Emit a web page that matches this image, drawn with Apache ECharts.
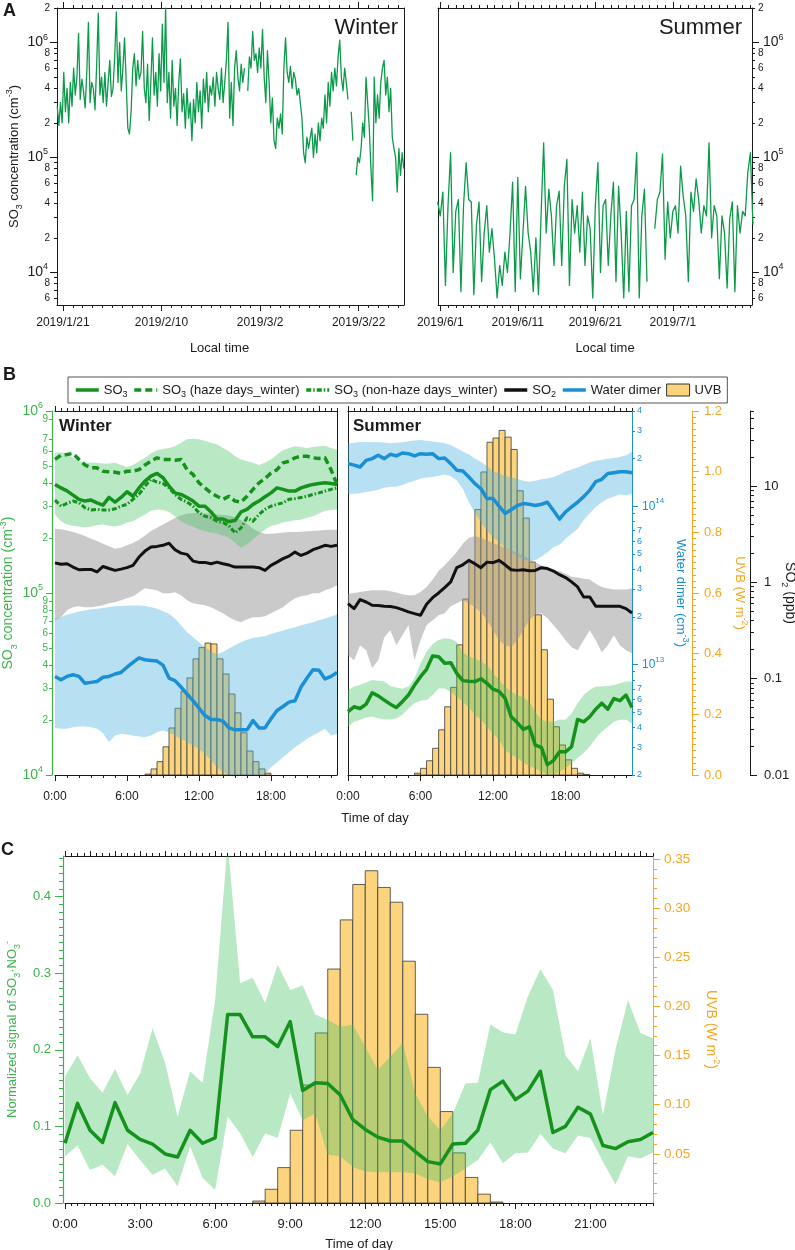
<!DOCTYPE html>
<html lang="en">
<head>
<meta charset="utf-8">
<title>SO3 observations</title>
<script src="https://cdn.jsdelivr.net/npm/echarts@6.0.0/dist/echarts.min.js"></script>
<style>
  html, body { margin: 0; padding: 0; background: #fff; }
  #chart { width: 795px; height: 1250px; }
</style>
</head>
<body>
<div id="chart"></div>
<script>
// ---------- panel A : SO3 time series, 8-hourly readings, units of 1e4 cm-3 ----------
const winterStart = Date.UTC(2019, 0, 19, 20);
const summerStart = Date.UTC(2019, 4, 31, 16);
const STEP = 8 * 3600e3;
const winterSO3_e4 = [28, 19, 30, 20,
  55, 25, 40, 20, 45, 28, 60, 35, 50, 120, 32, 48, 38, 27, 55, 150, 30, 45, 40, 26, 62, 180, 35, 50, 30, 55, 28, 45, 70, 34,
  40, 75, 185, 45, 100, 38, 60, 110, 45, 18, 16, 25, 60, 80, 42, 70, 48, 55, 125, 40, 30, 65, 21, 45, 110, 35, 55, 28, 80, 38,
  145, 45, 200, 30, 55, 22, 70, 28, 40, 19, 45, 72, 25, 36, 18, 40, 22, 30, 14, 32, 20, 45, 25, 38, 18, 48, 30, 55, 25, 42,
  35, 50, 28, 55, 40, 32, 60, 30, 45, 70, 150, 22, 45, 19, 60, 85, 50, 38, 65, 45, 60, null, 38, 75, 60, 125, 70, 80, 55, 90,
  60, 130, 50, 30, 85, 45, 20, 33, 14, 12, 22, 18, 24, 16, 60, 110, 55, 45, 62, 40, 55, 48, 35, 40, 30, 22, 11, 9, 15, 12,
  12, 18, 10, 16, 11, 20, 14, 22, 18, 35, 20, 45, 28, 55, 38, 60, 42, 75, 105, 50, 38, 60, 45, 32, null, 25, 14, null, 7, 10,
  9, 12, 20, 15, 50, 30, 18, 8, 4.2, 50, 20, 35, 22, 45, 60, 70, 35, 50, 25, 40, 15, 12, 10, 5, 12, 7, 11, 8];
const summerSO3_e4 = [4.1, 3.1, 5.0, 0.77, 3.8, 11, 1.0, 3.4, 4.3, 0.68, 3.8, 9.0, 4.3, 4.1, 0.64, 2.6, 4.1, 0.83, 2.2, 3.8,
  1.5, 2.4, 1.3, 0.6, 1.15, 0.77, 1.5, 1.0, 2.2, 6.1, 0.68, 6.7, 0.88, 2.2, 5.6, 2.2, 1.5, 0.68, 2.0, 0.64,
  3.1, 13.4, 2.2, 5.3, 3.1, 1.15, 3.8, 5.1, 1.15, 5.6, 9.6, 0.77, 4.3, 2.2, 3.8, 1.5, 5.0, 1.15, 3.1, 2.4,
  0.6, 3.8, 9.0, 1.0, 3.8, 4.3, 1.15, 3.1, 6.1, 0.83, 5.6, 2.2, 0.6, 3.4, 0.68, 3.8, 4.3, 11, 0.6, 3.1,
  5.3, 0.83, null, null, 2.4, 4.3, 5.0, 10.7, 1.3, 4.1, 2.0, 3.4, 3.8, 2.2, 8.4, 4.6, 3.1, 0.83, 5.0, 3.4,
  6.5, 4.3, 2.2, 3.8, 3.1, 13.4, 2.0, 3.8, 3.1, 0.88, 3.1, 2.2, 0.73, 2.9, 4.1, 0.68, 3.8, 2.2, 3.4, 3.1,
  7.4, 11, 2.6];
const winterDateTicks = ['2019-01-21', '2019-02-10', '2019-03-02', '2019-03-22'];
const summerDateTicks = ['2019-06-01', '2019-06-11', '2019-06-21', '2019-07-01'];

// ---------- panel B : diurnal means, half-hourly from 0:00 ----------
// winter, SO3 in 1e5 cm-3, water dimer in 1e13 cm-3, SO2 in ppb
const wSO3 = [3.95,3.78,3.64,3.45,3.27,3.20,3.24,3.13,3.04,3.35,3.16,3.35,3.60,3.40,3.78,4.12,4.39,4.54,4.30,3.87,3.55,3.48,3.35,3.20,3.00,3.00,2.79,2.55,2.55,2.47,2.50,2.79,2.88,3.07,3.20,3.38,3.55,3.78,3.71,3.63,3.63,3.78,3.87,3.95,4.00,4.03,4.00,3.95];
const wSO3Haze = [5.42,5.72,5.77,5.85,5.42,5.05,4.87,4.87,4.67,4.63,4.61,4.54,4.67,4.67,4.76,5.05,5.30,5.53,5.42,5.42,5.37,5.42,4.76,4.48,4.03,3.78,3.55,3.40,3.27,3.40,3.20,3.16,3.40,3.71,4.03,4.25,4.57,4.76,5.19,5.30,5.53,5.64,5.64,5.53,5.49,5.53,4.76,3.95];
const wSO3NonHaze = [3.24,3.00,3.11,3.20,3.13,2.94,2.86,2.88,2.86,2.86,2.90,3.00,3.07,3.27,3.48,3.87,4.21,4.07,4.00,3.78,3.48,3.27,3.16,3.00,2.76,2.64,2.59,2.48,2.44,2.34,2.14,2.28,2.59,2.48,2.70,2.88,3.00,3.07,3.13,3.27,3.30,3.35,3.40,3.48,3.55,3.63,3.71,3.78];
const wSO3Hi = [5.89,5.94,5.85,5.53,5.30,5.23,5.19,5.19,5.14,5.14,5.19,5.05,4.93,5.05,5.30,5.53,5.85,6.09,6.19,6.27,6.40,6.70,7.00,7.05,7.00,6.85,6.70,6.56,6.27,6.01,5.64,5.42,5.30,5.19,5.05,5.19,5.42,5.77,6.09,6.27,6.40,6.34,6.27,6.34,6.40,6.45,6.27,6.14];
const wSO3Lo = [2.70,2.48,2.38,2.34,2.32,2.29,2.32,2.36,2.38,2.34,2.32,2.36,2.44,2.48,2.59,2.70,2.83,2.88,2.86,2.79,2.64,2.48,2.38,2.32,2.23,2.19,2.14,2.12,2.07,2.02,1.89,1.77,1.85,1.97,2.10,2.23,2.34,2.38,2.44,2.48,2.51,2.53,2.59,2.64,2.73,2.83,2.86,2.88];
const wSO2 = [1.59,1.54,1.56,1.44,1.35,1.36,1.36,1.28,1.46,1.39,1.33,1.37,1.42,1.50,1.83,2.11,2.32,2.36,2.42,2.55,2.18,2.01,1.95,1.66,1.61,1.61,1.56,1.62,1.56,1.51,1.44,1.44,1.44,1.44,1.42,1.33,1.50,1.62,1.76,1.87,2.06,1.90,2.01,2.18,2.29,2.42,2.36,2.42];
const wSO2Hi = [3.60,3.55,3.46,3.32,3.19,3.02,2.84,2.69,2.52,2.37,2.23,2.29,2.42,2.56,2.77,3.06,3.40,3.68,3.97,4.30,4.66,4.95,5.15,5.23,5.23,5.19,5.15,5.07,4.99,4.91,4.74,4.44,4.05,3.60,3.32,3.19,3.19,3.24,3.29,3.32,3.32,3.35,3.38,3.40,3.46,3.49,3.51,3.51];
const wSO2Lo = [0.404,0.434,0.513,0.551,0.564,0.551,0.551,0.564,0.577,0.606,0.620,0.651,0.683,0.716,0.788,0.867,0.846,0.826,0.769,0.769,0.788,0.733,0.651,0.606,0.592,0.577,0.551,0.513,0.477,0.434,0.404,0.385,0.414,0.434,0.434,0.444,0.477,0.513,0.551,0.620,0.683,0.716,0.733,0.769,0.769,0.826,0.867,0.931];
const wWater = [0.84,0.80,0.84,0.86,0.84,0.76,0.77,0.78,0.83,0.84,0.87,0.89,0.96,1.03,1.10,1.07,1.06,1.05,0.99,0.82,0.79,0.72,0.65,0.59,0.53,0.475,0.449,0.449,0.438,0.397,0.386,0.386,0.386,0.442,0.397,0.397,0.453,0.512,0.542,0.578,0.59,0.72,0.82,0.925,0.92,0.81,0.84,0.89];
const wWaterHi = [1.95,1.99,2.07,2.11,2.16,2.20,2.23,2.25,2.27,2.31,2.33,2.34,2.35,2.36,2.36,2.34,2.31,2.25,2.17,2.09,1.95,1.77,1.60,1.49,1.38,1.29,1.20,1.16,1.20,1.26,1.32,1.38,1.43,1.47,1.49,1.51,1.56,1.60,1.64,1.68,1.72,1.77,1.81,1.85,1.90,1.95,2.01,2.07];
const wWaterLo = [0.397,0.392,0.392,0.401,0.405,0.405,0.401,0.392,0.367,0.322,0.356,0.364,0.361,0.356,0.350,0.347,0.356,0.373,0.382,0.373,0.356,0.339,0.322,0.307,0.292,0.272,0.247,0.224,0.208,0.2,0.2,0.2,0.2,0.2,0.2,0.203,0.224,0.240,0.259,0.279,0.300,0.318,0.339,0.356,0.373,0.392,0.356,0.364];
const wUVB = [0.003,0.020,0.044,0.093,0.155,0.220,0.275,0.320,0.383,0.420,0.435,0.432,0.383,0.333,0.267,0.205,0.139,0.079,0.044,0.020,0.006]; // 7:30 .. 17:30

// summer, SO3 in 1e4 cm-3, water dimer in 1e14 cm-3, SO2 in ppb
const sSO3 = [2.23,2.37,2.32,2.45,2.83,2.72,2.58,2.45,2.35,2.53,2.75,3.11,3.47,3.81,4.51,4.47,4.11,4.14,3.62,3.30,3.27,3.26,3.38,3.19,2.96,2.88,2.64,2.09,1.94,1.78,1.84,1.46,1.42,1.14,1.20,1.34,1.34,1.43,2.02,1.96,2.09,2.30,2.48,2.30,2.63,2.56,2.75,2.35];
const sSO3Hi = [2.93,3.06,3.12,3.22,3.33,3.30,3.26,3.08,3.03,2.98,3.06,3.40,4.11,4.76,5.25,5.52,5.64,5.59,5.40,4.76,4.47,4.38,4.20,4.02,3.62,3.33,3.06,2.87,2.75,2.67,2.53,2.23,2.01,1.96,1.96,2.02,2.01,2.18,2.48,2.75,2.93,3.06,3.06,3.08,3.12,3.19,3.26,3.26];
const sSO3Lo = [1.84,1.96,2.01,2.07,2.09,2.05,2.02,2.02,2.05,2.14,2.32,2.48,2.56,2.58,2.75,2.99,2.99,2.87,2.69,2.53,2.35,2.14,2.01,1.84,1.69,1.56,1.37,1.29,1.24,1.17,1.12,1.09,1.04,1.01,1.01,1.04,1.09,1.16,1.24,1.32,1.43,1.59,1.73,1.84,1.96,2.01,2.01,1.92];
const sSO2 = [0.601,0.533,0.661,0.625,0.578,0.573,0.564,0.560,0.546,0.521,0.493,0.473,0.455,0.592,0.693,0.775,0.881,1.01,1.42,1.52,1.69,1.56,1.42,1.62,1.60,1.69,1.52,1.35,1.33,1.35,1.32,1.33,1.42,1.39,1.31,1.20,1.12,1.01,0.895,0.705,0.705,0.564,0.564,0.564,0.564,0.564,0.533,0.481];
const sSO2Hi = [0.763,0.775,0.794,0.813,0.826,0.826,0.826,0.807,0.782,0.751,0.733,0.733,0.794,0.895,1.07,1.31,1.50,1.76,2.06,2.52,2.90,3.00,2.90,2.72,2.55,2.42,2.29,2.15,2.01,1.90,1.76,1.62,1.50,1.42,1.35,1.31,1.23,1.14,1.12,1.09,1.07,0.969,0.895,0.860,0.840,0.840,0.840,0.860];
const sSO2Lo = [0.175,0.155,0.222,0.197,0.128,0.155,0.269,0.318,0.222,0.282,0.358,0.155,0.251,0.358,0.404,0.455,0.477,0.564,0.606,0.651,0.606,0.551,0.489,0.404,0.318,0.251,0.222,0.212,0.251,0.318,0.404,0.466,0.477,0.424,0.358,0.303,0.251,0.212,0.197,0.251,0.318,0.251,0.188,0.222,0.282,0.222,0.197,0.184];
const sWater = [1.86,1.82,1.77,1.95,2.00,2.10,2.00,2.13,2.08,2.17,2.15,2.08,2.15,2.13,2.15,2.00,2.02,1.86,1.69,1.67,1.53,1.39,1.29,1.12,1.12,1.00,0.90,0.95,1.01,1.04,1.03,1.01,1.03,1.06,0.94,0.83,0.92,0.99,1.06,1.15,1.26,1.43,1.48,1.61,1.63,1.65,1.65,1.63];
const sWaterHi = [2.49,2.52,2.55,2.55,2.55,2.54,2.53,2.50,2.52,2.54,2.58,2.60,2.62,2.59,2.57,2.54,2.50,2.44,2.33,2.22,2.13,2.00,1.91,1.79,1.67,1.61,1.56,1.52,1.49,1.45,1.43,1.45,1.48,1.50,1.53,1.59,1.66,1.71,1.76,1.82,1.89,1.94,1.97,2.00,2.02,2.05,2.10,2.21];
const sWaterLo = [1.20,1.20,1.21,1.23,1.25,1.27,1.31,1.33,1.33,1.36,1.41,1.45,1.50,1.52,1.53,1.56,1.59,1.55,1.46,1.29,1.06,0.91,0.79,0.70,0.64,0.59,0.55,0.51,0.49,0.46,0.455,0.455,0.48,0.51,0.55,0.57,0.62,0.67,0.72,0.82,0.90,0.99,1.06,1.12,1.15,1.19,1.17,1.20];
const sUVB = [0.006,0.022,0.047,0.088,0.149,0.225,0.289,0.429,0.580,0.704,0.875,0.999,1.097,1.111,1.136,1.114,1.073,0.937,0.847,0.702,0.528,0.413,0.250,0.159,0.099,0.050,0.022,0.006,0.002]; // 5:30 .. 19:30

// ---------- panel C ----------
const cSignal = [0.078,0.130,0.095,0.079,0.131,0.095,0.083,0.077,0.064,0.060,0.095,0.078,0.085,0.246,0.246,0.217,0.217,0.204,0.237,0.147,0.157,0.156,0.141,0.109,0.096,0.086,0.081,0.081,0.067,0.054,0.051,0.077,0.078,0.095,0.148,0.159,0.135,0.146,0.172,0.092,0.100,0.125,0.116,0.075,0.071,0.080,0.083,0.092];
const cHi = [0.165,0.193,0.163,0.144,0.175,0.141,0.169,0.228,0.183,0.113,0.172,0.157,0.265,0.47,0.287,0.294,0.261,0.311,0.278,0.284,0.246,0.239,0.230,0.233,0.204,0.174,0.191,0.209,0.143,0.113,0.095,0.117,0.156,0.157,0.233,0.223,0.220,0.270,0.305,0.278,0.193,0.172,0.215,0.115,0.200,0.265,0.222,0.215];
const cLo = [0.061,0.075,0.043,0.050,0.035,0.077,0.056,0.037,0.045,0.022,0.074,0.033,0.017,0.113,0.091,0.060,0.091,0.085,0.143,0.108,0.117,0.063,0.061,0.047,0.041,0.040,0.040,0.040,0.039,0.031,0.027,0.035,0.045,0.056,0.079,0.052,0.065,0.066,0.090,0.071,0.065,0.088,0.085,0.054,0.024,0.061,0.058,0.066];
const cUVB = [0.002,0.014,0.036,0.074,0.120,0.173,0.238,0.288,0.324,0.338,0.321,0.306,0.246,0.192,0.138,0.093,0.051,0.026,0.009,0.001]; // 7:30 .. 17:00

// tick labels
const aDecades = [1e4, 1e5, 1e6];
const aMinorLabels = [6e3, 8e3, 2e4, 4e4, 6e4, 8e4, 2e5, 4e5, 6e5, 8e5, 2e6];
const bDecades = [1e4, 1e5, 1e6];
const wdDecades = [1e13, 1e14];
const wdMinorLabels = [2e12,3e12,4e12,5e12,6e12,7e12,2e13,3e13,4e13,5e13,6e13,7e13,2e14,3e14,4e14];
const so2Decades = [0.01, 0.1, 1, 10];
const dayHourLabels = [0, 6, 12, 18];
const cHourLabels = [0, 3, 6, 9, 12, 15, 18, 21];
const cLeftLabels = [0, 0.1, 0.2, 0.3, 0.4];
const cUVBLabels = [0.05, 0.10, 0.15, 0.20, 0.25, 0.30, 0.35];

// ---------- styling ----------
const FONT = '"Liberation Sans", Arial, Helvetica, sans-serif';
const INK = '#1a1a1a';
const GREEN_AX = '#3cb44b';
const GREEN = '#14921c';
const BLUE = '#1b8fd3';
const ORANGE = '#f6a623';
const BAR_FILL = '#fdd47e';
const BAR_EDGE = '#3a3a3a';
const GREEN_BAND = 'rgba(70,195,100,0.38)';
const GRAY_BAND = 'rgba(150,150,150,0.5)';
const BLUE_BAND = 'rgba(75,180,225,0.40)';
const DAY = 86400e3;

const hh = Array.from({length: 48}, (_, i) => i / 2);            // 0:00 ... 23:30
const hourTicks = Array.from({length: 24}, (_, i) => i);
const twoHourTicks = Array.from({length: 12}, (_, i) => i * 2);
const halfHourTicks = hh;
const quarterTicks = Array.from({length: 95}, (_, i) => i / 4);

function logMinors(lo, hi) {
  const out = [];
  for (let e = Math.floor(Math.log10(lo)); e <= Math.ceil(Math.log10(hi)); e++) {
    for (let m = 2; m <= 9; m++) {
      const v = +(m * Math.pow(10, e)).toPrecision(3);
      if (v >= lo * 0.999 && v <= hi * 1.001) out.push(v);
    }
  }
  return out;
}
function linTicks(lo, hi, step) {
  const out = [];
  for (let v = lo; v <= hi + 1e-9; v += step) out.push(+v.toFixed(4));
  return out;
}
const mant = v => String(Math.round(v / Math.pow(10, Math.floor(Math.log10(v) + 1e-9))));
const decade = v => '10{p|' + Math.round(Math.log10(v)) + '}';
const dateFmt = v => { const d = new Date(v); return d.getUTCFullYear() + '/' + (d.getUTCMonth() + 1) + '/' + d.getUTCDate(); };

function rich(color, size) {
  const small = Math.round(size * 0.66);
  return {
    p: {fontSize: small, verticalAlign: 'top', color, fontFamily: FONT},
    s: {fontSize: small, verticalAlign: 'bottom', color, fontFamily: FONT}
  };
}
function ax(grid, pos, extra) {
  return Object.assign({
    gridIndex: grid, position: pos, splitLine: {show: false},
    axisLine: {show: false, onZero: false},
    axisTick: {show: false}, axisLabel: {show: false}
  }, extra);
}
const line = (color, width) => ({show: true, onZero: false, lineStyle: {color, width: width || 1}});
const ticks = (values, length, color) => ({show: true, customValues: values, length, lineStyle: {color, width: 1}});
const labels = (values, fmt, color, size, margin, tall) => ({
  show: true, customValues: values, formatter: fmt, color, fontSize: size, margin,
  showMinLabel: true, showMaxLabel: true, hideOverlap: false,
  fontFamily: FONT, lineHeight: tall ? size + 6 : size + 1, rich: rich(color, size)
});
const nameStyle = (color, size, extra) => Object.assign({color, fontSize: size, fontFamily: FONT, lineHeight: size + 6, rich: rich(color, size)}, extra || {});

// ---------- axes ----------
const wR = [Date.UTC(2019, 0, 19, 19), Date.UTC(2019, 2, 31, 5)];
const sR = [Date.UTC(2019, 4, 31, 17), Date.UTC(2019, 6, 11, 5)];
const wMajor = winterDateTicks.map(Date.parse);
const sMajor = summerDateTicks.map(Date.parse);
const wMinor = Array.from({length: 35}, (_, k) => wMajor[0] + k * 2 * DAY);
const sMinor = Array.from({length: 41}, (_, k) => sMajor[0] + k * DAY);

function dateAxes(grid, r, major, minor, namePad) {
  const base = {type: 'value', min: r[0], max: r[1]};
  return [
    ax(grid, 'bottom', Object.assign({}, base, {axisLine: line(INK), axisTick: ticks(major, 6, INK),
      axisLabel: labels(major, dateFmt, INK, 12, 11),
      name: 'Local time', nameLocation: 'middle', nameGap: 34, nameTextStyle: nameStyle(INK, 13, {padding: namePad})})),
    ax(grid, 'bottom', Object.assign({}, base, {axisTick: ticks(minor, 3, INK)})),
    ax(grid, 'top', Object.assign({}, base, {axisLine: line(INK), axisTick: ticks(major, 6, INK)})),
    ax(grid, 'top', Object.assign({}, base, {axisTick: ticks(minor, 3, INK)}))
  ];
}
function dayAxes(grid, bottomMajor, bottomMinor, bottomSize, margin, topMajor, topMinor, nameOpt) {
  const base = {type: 'value', min: 0, max: 23.5};
  return [
    ax(grid, 'bottom', Object.assign({}, base, {axisLine: line(INK), axisTick: ticks(bottomMajor, 6, INK),
      axisLabel: labels(bottomMajor, v => v + ':00', INK, bottomSize, margin)}, nameOpt || {})),
    ax(grid, 'bottom', Object.assign({}, base, {axisTick: ticks(bottomMinor, 3, INK)})),
    ax(grid, 'top', Object.assign({}, base, {axisLine: line(INK), axisTick: ticks(topMajor, 5, INK)})),
    ax(grid, 'top', Object.assign({}, base, {axisTick: ticks(topMinor, 3, INK)}))
  ];
}

const xAxis = [].concat(
  dateAxes(0, wR, wMajor, wMinor, [0, 22, 0, 0]),                 // 0-3
  dateAxes(1, sR, sMajor, sMinor, [0, 0, 0, 20]),                 // 4-7
  dayAxes(2, dayHourLabels, hourTicks, 12, 15, twoHourTicks, halfHourTicks),   // 8-11
  dayAxes(3, dayHourLabels, hourTicks, 12, 15, twoHourTicks, halfHourTicks),   // 12-15
  dayAxes(4, cHourLabels, quarterTicks, 13, 14, hourTicks, quarterTicks,       // 16-19
    {name: 'Time of day', nameLocation: 'middle', nameGap: 32, nameTextStyle: nameStyle(INK, 13)})
);

const aMin = 5.2e3, aMax = 2.0005e6;
const wdMax = 4.0005e14;
const yAxis = [
  // 0,1 panel A winter, left log axis
  ax(0, 'left', {type: 'log', min: aMin, max: aMax, axisLine: line(INK), axisTick: ticks(aDecades, 7, INK),
    axisLabel: labels(aDecades, decade, INK, 14, 9, true),
    name: 'SO{s|3} concentration (cm{p|-3})', nameLocation: 'middle', nameGap: 33, nameTextStyle: nameStyle(INK, 13)}),
  ax(0, 'left', {type: 'log', min: aMin, max: aMax, axisTick: ticks(logMinors(aMin, aMax), 3, INK),
    axisLabel: labels(aMinorLabels, mant, INK, 10, 7)}),
  // 2 frame
  ax(0, 'right', {type: 'value', min: 0, max: 1, axisLine: line(INK)}),
  // 3,4 panel A summer, right log axis
  ax(1, 'right', {type: 'log', min: aMin, max: aMax, axisLine: line(INK), axisTick: ticks(aDecades, 7, INK),
    axisLabel: labels(aDecades, decade, INK, 14, 11, true)}),
  ax(1, 'right', {type: 'log', min: aMin, max: aMax, axisTick: ticks(logMinors(aMin, aMax), 3, INK),
    axisLabel: labels(aMinorLabels, mant, INK, 10, 6)}),
  // 5 frame
  ax(1, 'left', {type: 'value', min: 0, max: 1, axisLine: line(INK)}),
  // 6,7 panel B winter SO3 (green)
  ax(2, 'left', {type: 'log', min: 1e4, max: 1e6, offset: 3, axisLine: line(GREEN_AX, 1.2), axisTick: ticks(bDecades, 6, GREEN_AX),
    axisLabel: labels(bDecades, decade, GREEN_AX, 14, 9, true),
    name: 'SO{s|3} concentration (cm{p|-3})', nameLocation: 'middle', nameGap: 29, nameTextStyle: nameStyle(GREEN_AX, 14)}),
  ax(2, 'left', {type: 'log', min: 1e4, max: 1e6, offset: 3, axisTick: ticks(logMinors(1e4, 1e6), 3, GREEN_AX),
    axisLabel: labels(logMinors(1e4, 1e6), mant, GREEN_AX, 10, 4)}),
  // 8,9 hidden scales for winter water dimer and SO2
  {gridIndex: 2, type: 'log', min: 2e12, max: wdMax, show: false},
  {gridIndex: 2, type: 'log', min: 0.01, max: 60, show: false},
  // 10 winter UVB scale, drawn only as the right frame
  ax(2, 'right', {type: 'value', min: 0, max: 1.2, axisLine: line(INK)}),
  // 11 summer SO3 scale, left frame
  ax(3, 'left', {type: 'log', min: 1e4, max: 1e6, axisLine: line(INK)}),
  // 12,13 water dimer
  ax(3, 'right', {type: 'log', min: 2e12, max: wdMax, axisLine: line(BLUE), axisTick: ticks(wdDecades, 6, BLUE),
    axisLabel: labels(wdDecades, decade, BLUE, 12, 10, true),
    name: 'Water dimer (cm{p|-3})', nameLocation: 'middle', nameRotate: -90, nameGap: 39, nameTextStyle: nameStyle(BLUE, 13)}),
  ax(3, 'right', {type: 'log', min: 2e12, max: wdMax, axisTick: ticks(logMinors(2e12, 4e14), 3, BLUE),
    axisLabel: labels(wdMinorLabels, mant, BLUE, 9, 5)}),
  // 14 UVB
  ax(3, 'right', {type: 'value', min: 0, max: 1.2, interval: 0.2, offset: 60, axisLine: line(ORANGE),
    axisTick: {show: true, length: 7, lineStyle: {color: ORANGE}}, minorTick: {show: true, splitNumber: 10, length: 4, lineStyle: {color: ORANGE}},
    axisLabel: {show: true, formatter: v => v.toFixed(1), color: ORANGE, fontSize: 13, margin: 12, fontFamily: FONT},
    name: 'UVB (W m{p|-2})', nameLocation: 'middle', nameRotate: -90, nameGap: 38, nameTextStyle: nameStyle(ORANGE, 13)}),
  // 15,16 SO2
  ax(3, 'right', {type: 'log', min: 0.01, max: 60, offset: 118, axisLine: line(INK), axisTick: ticks(so2Decades, 7, INK),
    axisLabel: labels(so2Decades, v => String(v), INK, 13, 14),
    name: 'SO{s|2} (ppb)', nameLocation: 'middle', nameRotate: -90, nameGap: 30, nameMoveOverlap: false,
    nameTextStyle: nameStyle(INK, 14)}),
  ax(3, 'right', {type: 'log', min: 0.01, max: 60, offset: 118, axisTick: ticks(logMinors(0.01, 60), 4, INK)}),
  // 17,18 panel C signal
  ax(4, 'left', {type: 'value', min: 0, max: 0.453, offset: 2, axisLine: line(GREEN_AX, 1.2), axisTick: ticks(cLeftLabels, 8, GREEN_AX),
    axisLabel: labels(cLeftLabels, v => v.toFixed(1), GREEN_AX, 13, 12),
    name: 'Normalized signal of SO{s|3}·NO{s|3}{p|-}', nameLocation: 'middle', nameGap: 37, nameTextStyle: nameStyle(GREEN_AX, 13)}),
  ax(4, 'left', {type: 'value', min: 0, max: 0.453, offset: 2, axisTick: ticks(linTicks(0, 0.45, 0.01), 4, GREEN_AX)}),
  // 19,20 panel C UVB
  ax(4, 'right', {type: 'value', min: 0, max: 0.353, axisLine: line(ORANGE), axisTick: ticks(cUVBLabels, 7, ORANGE),
    axisLabel: labels(cUVBLabels, v => v.toFixed(2), ORANGE, 13.5, 11),
    name: 'UVB (W m{p|-2})', nameLocation: 'middle', nameRotate: -90, nameGap: 45, nameTextStyle: nameStyle(ORANGE, 14)}),
  ax(4, 'right', {type: 'value', min: 0, max: 0.353, axisTick: ticks(linTicks(0.01, 0.35, 0.01), 4, ORANGE)})
];

// ---------- series ----------
function lineS(name, xi, yi, xs, ys, scale, color, width, dash) {
  return {
    type: 'line', name, xAxisIndex: xi, yAxisIndex: yi, symbol: 'none', silent: true, connectNulls: false, z: 4,
    color, lineStyle: {color, width, type: dash || 'solid', cap: 'butt', join: 'round'},
    data: xs.map((x, i) => [x, ys[i] == null ? null : ys[i] * scale])
  };
}
function bandS(name, xi, yi, xs, lo, hi, scale, fill) {
  const rows = xs.map((x, i) => [x, lo[i] * scale, hi[i] * scale]);
  return {
    type: 'custom', name, xAxisIndex: xi, yAxisIndex: yi, silent: true, clip: true, z: 3,
    data: rows, encode: {x: 0, y: [1, 2]},
    renderItem(params, api) {
      if (params.dataIndex !== 0) return null;
      const top = rows.map(r => api.coord([r[0], r[2]]));
      const bot = rows.map(r => api.coord([r[0], r[1]])).reverse();
      return {type: 'polygon', shape: {points: top.concat(bot)}, style: {fill}};
    }
  };
}
function barS(xi, yi, xs, vals) {
  const bin = 0.5;
  return {
    type: 'custom', name: 'UVB', xAxisIndex: xi, yAxisIndex: yi, silent: true, clip: true, z: 2,
    itemStyle: {color: BAR_FILL},
    data: xs.map((x, i) => [x, vals[i]]),
    renderItem(params, api) {
      const a = api.coord([api.value(0), api.value(1)]);
      const b = api.coord([api.value(0) + bin, 0]);
      return {type: 'rect', shape: {x: a[0], y: a[1], width: b[0] - a[0], height: b[1] - a[1]},
        style: {fill: BAR_FILL, stroke: BAR_EDGE, lineWidth: 0.8}};
    }
  };
}
const winterTimes = winterSO3_e4.map((_, i) => winterStart + i * STEP);
const summerTimes = summerSO3_e4.map((_, i) => summerStart + i * STEP);

const series = [
  lineS('Winter SO3 series', 0, 0, winterTimes, winterSO3_e4, 1e4, '#0b9a4a', 1.3),
  lineS('Summer SO3 series', 4, 3, summerTimes, summerSO3_e4, 1e4, '#0b9a4a', 1.3),

  barS(8, 10, hh.slice(15, 36), wUVB),
  bandS('w SO2 range', 8, 9, hh, wSO2Lo, wSO2Hi, 1, GRAY_BAND),
  bandS('w water range', 8, 8, hh, wWaterLo, wWaterHi, 1e13, BLUE_BAND),
  bandS('w SO3 range', 8, 6, hh, wSO3Lo, wSO3Hi, 1e5, GREEN_BAND),
  lineS('SO2', 8, 9, hh, wSO2, 1, '#111111', 3),
  lineS('Water dimer', 8, 8, hh, wWater, 1e13, BLUE, 3.5),
  lineS('SO3', 8, 6, hh, wSO3, 1e5, GREEN, 3.5),
  lineS('SO3 (haze days_winter)', 8, 6, hh, wSO3Haze, 1e5, GREEN, 3.5, [7, 4]),
  lineS('SO3 (non-haze days_winter)', 8, 6, hh, wSO3NonHaze, 1e5, GREEN, 3, [5, 2, 1.5, 2]),

  barS(12, 14, hh.slice(11, 40), sUVB),
  bandS('s SO2 range', 12, 15, hh, sSO2Lo, sSO2Hi, 1, GRAY_BAND),
  bandS('s water range', 12, 12, hh, sWaterLo, sWaterHi, 1e14, BLUE_BAND),
  bandS('s SO3 range', 12, 11, hh, sSO3Lo, sSO3Hi, 1e4, GREEN_BAND),
  lineS('SO2', 12, 15, hh, sSO2, 1, '#111111', 3),
  lineS('Water dimer', 12, 12, hh, sWater, 1e14, BLUE, 3.5),
  lineS('SO3', 12, 11, hh, sSO3, 1e4, GREEN, 3.5),

  barS(16, 19, hh.slice(15, 35), cUVB),
  bandS('c range', 16, 17, hh, cLo, cHi, 1, GREEN_BAND),
  lineS('SO3·NO3 signal', 16, 17, hh, cSignal, 1, GREEN, 3.5)
];

const legendText = {
  'SO3': 'SO{s|3}',
  'SO3 (haze days_winter)': 'SO{s|3} (haze days_winter)',
  'SO3 (non-haze days_winter)': 'SO{s|3} (non-haze days_winter)',
  'SO2': 'SO{s|2}',
  'Water dimer': 'Water dimer',
  'UVB': 'UVB'
};

const txt = (x, y, text, font, align) => ({
  type: 'text', x, y, silent: true,
  style: {text, font: font + ' ' + FONT, fill: INK, align: align || 'left', textAlign: align || 'left', verticalAlign: 'middle', textVerticalAlign: 'middle'}
});

const option = {
  animation: false,
  backgroundColor: '#ffffff',
  textStyle: {fontFamily: FONT},
  grid: [
    {left: 57, top: 8, width: 347, height: 297, outerBoundsMode: 'none'},
    {left: 438, top: 8, width: 314, height: 297, outerBoundsMode: 'none'},
    {left: 55, top: 411, width: 282, height: 364, outerBoundsMode: 'none'},
    {left: 348, top: 411, width: 284, height: 364, outerBoundsMode: 'none'},
    {left: 65, top: 856, width: 588, height: 347, outerBoundsMode: 'none'}
  ],
  legend: {
    left: 68, top: 377, padding: [4, 6], itemGap: 5, itemWidth: 23, itemHeight: 12,
    borderColor: '#555', borderWidth: 1, selectedMode: false,
    itemStyle: {opacity: 0},
    lineStyle: {width: 3.5, cap: 'butt'},
    textStyle: {fontSize: 13, color: INK, fontFamily: FONT, lineHeight: 18, rich: rich(INK, 13)},
    formatter: n => legendText[n] || n,
    data: ['SO3', 'SO3 (haze days_winter)', 'SO3 (non-haze days_winter)', 'SO2', 'Water dimer',
      {name: 'UVB', icon: 'rect', itemStyle: {opacity: 1, color: BAR_FILL, borderColor: '#333', borderWidth: 1}}]
  },
  xAxis,
  yAxis,
  series,
  graphic: [
    txt(3, 11, 'A', 'bold 18px'),
    txt(3, 375, 'B', 'bold 18px'),
    txt(1, 850, 'C', 'bold 18px'),
    txt(398, 28, 'Winter', '22px', 'right'),
    txt(742, 28, 'Summer', '22px', 'right'),
    txt(59, 426, 'Winter', 'bold 17px'),
    txt(353, 426, 'Summer', 'bold 17px'),
    txt(375, 818, 'Time of day', '13px', 'center')
  ]
};

const chart = echarts.init(document.getElementById('chart'));
chart.setOption(option);
</script>
</body>
</html>
